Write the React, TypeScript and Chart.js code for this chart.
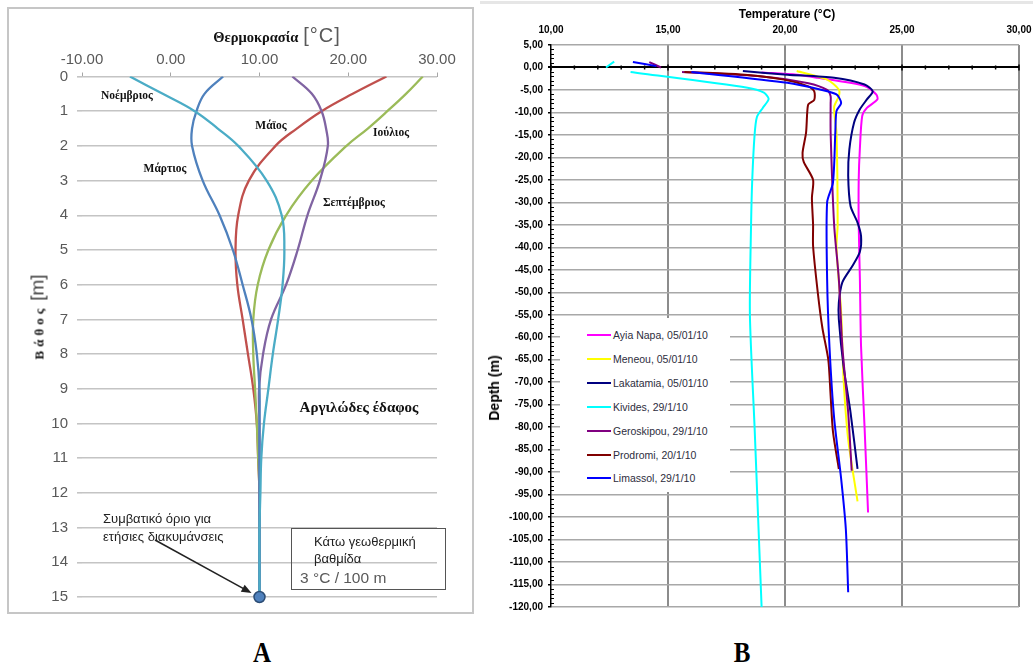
import { useEffect, useRef } from 'react';
import { Chart, registerables } from 'chart.js';
Chart.register(...registerables);

const SANS = '"Liberation Sans", Arial, sans-serif';
const SERIF = '"Liberation Serif", "Times New Roman", serif';

// ---------- Chart A : seasonal soil temperature profiles ----------
const depthsA = [0, 0.5, 1, 1.5, 2, 3, 4, 5, 6, 7, 8, 9, 10, 11, 12, 13, 14, 15];
const monthNames = ['Μάϊος', 'Ιούλιος', 'Σεπτέμβριος', 'Μάρτιος', 'Νοέμβριος'];
const monthColors = ['#C0504D', '#9BBB59', '#8064A2', '#4F81BD', '#4BACC6'];
const mayTemps = [24.3, 20.5, 17.0, 14.2, 11.8, 8.8, 7.6, 7.3, 7.5, 8.1, 8.7, 9.3, 9.7, 9.85, 10.0, 10.0, 10.0, 10.0];
const julyTemps = [28.4, 26.5, 24.4, 22.2, 19.8, 15.9, 13.0, 11.0, 9.8, 9.3, 9.3, 9.5, 9.7, 9.85, 10.0, 10.0, 10.0, 10.0];
const septTemps = [13.7, 15.9, 17.0, 17.5, 17.7, 16.8, 15.4, 14.3, 13.0, 11.3, 10.4, 9.95, 10.0, 10.0, 10.0, 10.0, 10.0, 10.0];
const marchTemps = [5.9, 3.8, 2.9, 2.4, 2.4, 3.6, 5.5, 7.0, 8.1, 9.1, 9.7, 10.0, 10.0, 10.0, 10.0, 10.0, 10.0, 10.0];
const novTemps = [-4.6, -0.9, 2.7, 5.3, 7.6, 10.8, 12.5, 12.8, 12.6, 12.1, 11.5, 11.0, 10.5, 10.2, 10.1, 10.0, 10.0, 10.0];
const monthTemps = [mayTemps, julyTemps, septTemps, marchTemps, novTemps];
const boundaryTemp = [10];
const boundaryDepth = [15];

// ---------- Chart B : borehole temperature logs, Cyprus ----------
const seriesNames = [
  'Ayia Napa, 05/01/10',
  'Meneou, 05/01/10',
  'Lakatamia, 05/01/10',
  'Kivides, 29/1/10',
  'Geroskipou, 29/1/10',
  'Prodromi, 20/1/10',
  'Limassol, 29/1/10',
];
const seriesColors = ['#FF00FF', '#FFFF00', '#000080', '#00FFFF', '#800080', '#800000', '#0000FF'];

const ayiaNapaT = [19.0, 20.5, 21.4, 23.4, 23.9, 23.95, 23.5, 23.3, 23.2, 23.15, 23.15, 23.2, 23.25, 23.4, 23.55];
const ayiaNapaD = [-1.1, -1.6, -2.3, -4.1, -6.0, -7.1, -9.0, -10.8, -18, -25, -35, -47, -62, -80, -99];
const meneouT = [20.5, 21.8, 22.3, 22.3, 22.1, 22.2, 22.25, 22.2, 22.4, 22.5, 22.7, 23.1];
const meneouD = [-0.8, -2.7, -4.9, -6.4, -8.8, -14.5, -35, -40, -54.5, -69, -82.7, -96.5];
const lakatamiaT = [18.2, 20.1, 22.1, 23.4, 23.75, 23.5, 23.2, 22.95, 22.75, 22.7, 22.8, 23.1, 23.25, 23.2, 22.9, 22.45, 22.3, 22.3, 22.5, 22.8, 23.1];
const lakatamiaD = [-0.8, -1.6, -2.3, -3.8, -5.3, -7.1, -9.3, -12.3, -18.2, -24, -30.8, -34.5, -37.5, -41, -44, -47.8, -52.3, -56, -66.4, -76.7, -89.3];
const kividesT = [12.35, 12.7, null, 13.4, 18.4, 19.1, 19.3, 19.05, 18.8, 18.7, 18.6, 18.55, 18.5, 18.7, 18.85, 19.0];
const kividesD = [0, 1.3, null, -1.0, -4.5, -5.6, -7.0, -9.0, -11.0, -15, -25, -35, -55, -80, -100, -120];
const geroskipouT = [14.2, 14.7, null, 15.6, 19.0, 21.0, 21.8, 21.95, 21.95, 21.95, 22.1, 22.3, 22.45, 22.7, 22.85];
const geroskipouD = [1.2, 0, null, -1.0, -2.0, -3.5, -5.0, -6.4, -8.0, -14.5, -35, -47, -62, -76.7, -89.7];
const prodromiT = [15.7, 18.0, 19.95, 21.0, 21.25, 21.25, 21.0, 20.95, 20.9, 20.75, 20.8, 21.2, 21.15, 21.2, 21.2, 21.4, 21.6, 21.85, 21.95, 22.05, 22.3];
const prodromiD = [-1.0, -1.5, -2.7, -4.2, -5.3, -7.2, -8.2, -10, -14.5, -19, -21, -25, -29, -35, -39.7, -50, -58, -65, -73, -81, -89.3];
const limassolT = [13.5, 14.5, null, 16.0, 20.1, 21.5, 22.2, 22.4, 22.2, 22.15, 22.05, 21.8, 21.8, 21.9, 22.1, 22.4, 22.6, 22.7];
const limassolD = [1.2, 0.3, null, -1.0, -3.4, -4.9, -6.0, -7.9, -9.7, -14.5, -25.6, -30, -47, -62, -78, -91.5, -102.7, -116.7];
const seriesTemps = [ayiaNapaT, meneouT, lakatamiaT, kividesT, geroskipouT, prodromiT, limassolT];
const seriesDepths = [ayiaNapaD, meneouD, lakatamiaD, kividesD, geroskipouD, prodromiD, limassolD];

const fmtComma = (v: any) => Number(v).toFixed(2).replace('.', ',');

const arrowPluginA = {
  id: 'arrowA',
  afterDatasetsDraw(chart: any) {
    const { ctx, scales } = chart;
    const tx = scales.x.getPixelForValue(boundaryTemp[0]) - 8;
    const ty = scales.y.getPixelForValue(boundaryDepth[0]) - 4;
    const sx = 155, sy = 540;
    const ang = Math.atan2(ty - sy, tx - sx);
    ctx.save();
    ctx.strokeStyle = '#222';
    ctx.fillStyle = '#222';
    ctx.lineWidth = 1.5;
    ctx.beginPath();
    ctx.moveTo(sx, sy);
    ctx.lineTo(tx - 6 * Math.cos(ang), ty - 6 * Math.sin(ang));
    ctx.stroke();
    ctx.beginPath();
    ctx.moveTo(tx, ty);
    ctx.lineTo(tx - 10 * Math.cos(ang) + 4 * Math.sin(ang), ty - 10 * Math.sin(ang) - 4 * Math.cos(ang));
    ctx.lineTo(tx - 10 * Math.cos(ang) - 4 * Math.sin(ang), ty - 10 * Math.sin(ang) + 4 * Math.cos(ang));
    ctx.closePath();
    ctx.fill();
    ctx.restore();
  },
};

const minorTicksB = {
  id: 'minorTicksB',
  afterDatasetsDraw(chart: any) {
    const { ctx, scales } = chart;
    const x = scales.x, y = scales.y;
    const ax = chart.chartArea.left;
    ctx.save();
    ctx.strokeStyle = '#000';
    ctx.lineWidth = 1;
    for (let v = y.min; v <= y.max; v += 1) {
      if (v % 5 === 0) continue;
      const py = Math.round(y.getPixelForValue(v)) + 0.5;
      ctx.beginPath();
      ctx.moveTo(ax, py);
      ctx.lineTo(ax + 3, py);
      ctx.stroke();
    }
    const y0 = y.getPixelForValue(0);
    ctx.lineWidth = 1.5;
    for (let v = x.min; v <= x.max; v += 1) {
      const px = x.getPixelForValue(v);
      const len = v % 5 === 0 ? 3 : 2;
      ctx.beginPath();
      ctx.moveTo(px, y0 - len);
      ctx.lineTo(px, y0 + len);
      ctx.stroke();
    }
    ctx.restore();
  },
};

const abs = (x: number, y: number, extra: any = {}) => ({
  position: 'absolute' as const,
  left: x,
  top: y,
  transform: 'translate(-50%, -50%)',
  whiteSpace: 'nowrap' as const,
  lineHeight: 1,
  ...extra,
});

const noSidePadding = (s: any) => {
  s.paddingLeft = 0;
  s.paddingRight = 0;
};

export default function App() {
  const refA = useRef<HTMLCanvasElement>(null);
  const refB = useRef<HTMLCanvasElement>(null);

  useEffect(() => {
    const datasetsA: any[] = monthTemps.map((temps, i) => ({
      label: monthNames[i],
      data: temps.map((t, k) => ({ x: t, y: depthsA[k] })),
      borderColor: monthColors[i],
      backgroundColor: monthColors[i],
      borderWidth: 2.3,
      pointRadius: 0,
      tension: 0.4,
      fill: false,
      order: monthTemps.length - i + 1,
    }));
    datasetsA.push({
      label: 'boundary',
      data: boundaryTemp.map((t, k) => ({ x: t, y: boundaryDepth[k] })),
      showLine: false,
      pointRadius: 5.5,
      pointBackgroundColor: '#4F81BD',
      pointBorderColor: '#2C4D75',
      pointBorderWidth: 1.5,
      clip: false,
      order: 0,
    });

    const chartA = new Chart(refA.current!, {
      type: 'line',
      data: { datasets: datasetsA },
      options: {
        responsive: false,
        animation: false,
        layout: { padding: { left: 0, top: 0, right: 43, bottom: 28 } },
        plugins: { legend: { display: false }, tooltip: { enabled: false } },
        scales: {
          x: {
            type: 'linear',
            position: 'top',
            min: -10,
            max: 30,
            ticks: {
              stepSize: 10,
              callback: (v: any) => Number(v).toFixed(2),
              color: '#595959',
              font: { family: SANS, size: 15 },
              padding: 4,
              maxRotation: 0,
            },
            grid: { drawOnChartArea: false, drawTicks: true, tickLength: 4, color: '#a6a6a6' },
            border: { display: false },
            afterFit: (s: any) => { s.height = 76.5; noSidePadding(s); },
          },
          y: {
            type: 'linear',
            reverse: true,
            min: 0,
            max: 15,
            ticks: {
              stepSize: 1,
              color: '#595959',
              font: { family: SANS, size: 15 },
              padding: 9,
            },
            grid: { color: '#c4c4c4', lineWidth: 1.6, tickLength: 5 },
            border: { display: false },
            afterFit: (s: any) => { s.width = 82; },
          },
        },
      } as any,
      plugins: [arrowPluginA],
    });

    const datasetsB = seriesTemps.map((temps, i) => ({
      label: seriesNames[i],
      data: temps.map((t, k) => (t === null ? { x: null, y: null } : { x: t, y: seriesDepths[i][k] })),
      borderColor: seriesColors[i],
      backgroundColor: seriesColors[i],
      borderWidth: 2,
      pointRadius: 0,
      tension: 0.25,
      spanGaps: false,
      fill: false,
      order: seriesTemps.length - i,
    }));

    const chartB = new Chart(refB.current!, {
      type: 'line',
      data: { datasets: datasetsB as any },
      options: {
        responsive: false,
        animation: false,
        layout: { padding: { left: 0, top: 0, right: 14, bottom: 18 } },
        plugins: { legend: { display: false }, tooltip: { enabled: false } },
        scales: {
          x: {
            type: 'linear',
            position: 'top',
            min: 10,
            max: 30,
            ticks: {
              stepSize: 5,
              callback: fmtComma,
              color: '#000',
              font: { family: SANS, size: 10, weight: 'bold' },
              padding: 9,
              maxRotation: 0,
            },
            grid: {
              color: (c: any) => (c.tick && c.tick.value === 10 ? 'rgba(0,0,0,0)' : '#8c8c8c'),
              lineWidth: 2,
              drawTicks: false,
            },
            border: { display: false },
            afterFit: (s: any) => { s.height = 45; noSidePadding(s); },
          },
          y: {
            type: 'linear',
            min: -120,
            max: 5,
            ticks: {
              stepSize: 5,
              callback: fmtComma,
              color: '#000',
              font: { family: SANS, size: 10, weight: 'bold' },
              padding: 5,
            },
            grid: {
              color: (c: any) => (c.tick && c.tick.value === 0 ? '#000' : '#a8a8a8'),
              lineWidth: (c: any) => (c.tick && c.tick.value === 0 ? 2 : 1.5),
              tickLength: 3,
              tickColor: '#000',
            },
            border: { display: true, color: '#000', width: 1.5 },
            afterFit: (s: any) => { s.width = 71; s.paddingTop = 0; s.paddingBottom = 0; },
          },
        },
      } as any,
      plugins: [minorTicksB],
    });

    return () => {
      chartA.destroy();
      chartB.destroy();
    };
  }, []);

  const lbl = { fontFamily: SERIF, fontWeight: 'bold' as const, fontSize: 11.5, color: '#111' };

  return (
    <div style={{ position: 'absolute', left: 0, top: 0, width: 1033, height: 666, background: '#fff', overflow: 'hidden' }}>
      {/* Chart A frame */}
      <div style={{ position: 'absolute', left: 7, top: 7, width: 463, height: 603, border: '2px solid #c6c6c6' }} />
      <canvas ref={refA} width={480} height={625} style={{ position: 'absolute', left: 0, top: 0 }} />

      {/* Chart A texts */}
      <div style={abs(277, 35)}>
        <span style={{ fontFamily: SERIF, fontWeight: 'bold', fontSize: 14.5, color: '#111' }}>Θερμοκρασία</span>
        <span style={{ fontFamily: SANS, fontSize: 20, color: '#595959', marginLeft: 5, letterSpacing: 1 }}>[°C]</span>
      </div>
      <div style={abs(37, 317, { transform: 'translate(-50%, -50%) rotate(-90deg)' })}>
        <span style={{ fontFamily: SERIF, fontWeight: 'bold', fontSize: 13, letterSpacing: 4, color: '#111' }}>Βάθος</span>
        <span style={{ fontFamily: SANS, fontSize: 19, color: '#404040', marginLeft: 4 }}>[m]</span>
      </div>
      <div style={abs(127, 96, lbl)}>{monthNames[4]}</div>
      <div style={abs(271, 126, lbl)}>{monthNames[0]}</div>
      <div style={abs(391, 133, lbl)}>{monthNames[1]}</div>
      <div style={abs(165, 169, lbl)}>{monthNames[3]}</div>
      <div style={abs(354, 203, lbl)}>{monthNames[2]}</div>
      <div style={abs(359, 407, { ...lbl, fontSize: 15 })}>Αργιλώδες έδαφος</div>
      <div style={{ position: 'absolute', left: 103, top: 510, fontFamily: SANS, fontSize: 13, color: '#222', lineHeight: '18px', whiteSpace: 'nowrap' }}>
        Συμβατικό όριο για<br />ετήσιες διακυμάνσεις
      </div>
      <div style={{ position: 'absolute', left: 291, top: 528, width: 153, height: 60, border: '1.5px solid #555' }} />
      <div style={{ position: 'absolute', left: 314, top: 533, fontFamily: SANS, fontSize: 13, color: '#222', lineHeight: '17px', whiteSpace: 'nowrap' }}>
        Κάτω γεωθερμική<br />βαθμίδα
      </div>
      <div style={{ position: 'absolute', left: 300, top: 569, fontFamily: SANS, fontSize: 15.5, color: '#595959', lineHeight: '17px', whiteSpace: 'nowrap' }}>
        3 °C / 100 m
      </div>

      {/* Chart B */}
      <div style={{ position: 'absolute', left: 480, top: 1, width: 553, height: 3, background: '#e6e6e6' }} />
      <canvas ref={refB} width={553} height={625} style={{ position: 'absolute', left: 480, top: 0 }} />
      <div style={abs(787, 14, { fontFamily: SANS, fontWeight: 'bold', fontSize: 12, color: '#000' })}>Temperature (°C)</div>
      <div style={abs(494, 388, { fontFamily: SANS, fontWeight: 'bold', fontSize: 14, color: '#000', transform: 'translate(-50%, -50%) rotate(-90deg)' })}>Depth (m)</div>

      {/* Chart B legend */}
      <div style={{ position: 'absolute', left: 560, top: 318, width: 170, height: 174, background: '#fff' }}>
        {seriesNames.map((name, i) => (
          <div key={name} style={{ position: 'absolute', left: 0, top: 17 + i * 23.9 - 7, height: 14, width: 170 }}>
            <div style={{ position: 'absolute', left: 27, top: 6, width: 24, height: 2, background: seriesColors[i] }} />
            <div style={{ position: 'absolute', left: 53, top: 0, fontFamily: SANS, fontSize: 10.5, lineHeight: '14px', color: '#2d2d3d', whiteSpace: 'nowrap' }}>{name}</div>
          </div>
        ))}
      </div>

      {/* Panel letters */}
      <div style={abs(262, 652, { fontFamily: SERIF, fontWeight: 'bold', fontSize: 25, color: '#000', transform: 'translate(-50%, -50%) scaleY(1.2)' })}>A</div>
      <div style={abs(742, 652, { fontFamily: SERIF, fontWeight: 'bold', fontSize: 25, color: '#000', transform: 'translate(-50%, -50%) scaleY(1.2)' })}>B</div>
    </div>
  );
}
